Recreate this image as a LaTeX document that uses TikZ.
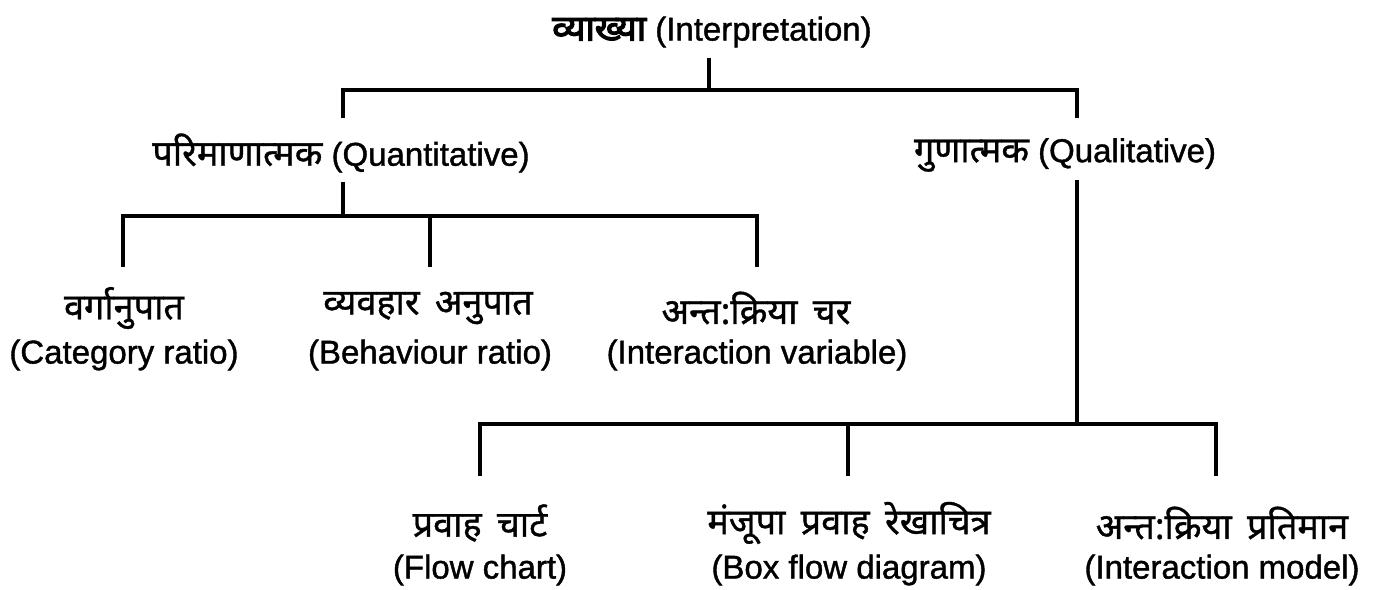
\documentclass[tikz,border=0pt]{standalone}
\usepackage{fontspec}
\setmainfont[FakeBold=1.2]{Liberation Sans}
\newfontfamily\dev[Script=Devanagari,FakeBold=1]{Noto Sans}
\newfontfamily\devbold[Script=Devanagari,FakeBold=3.5]{Noto Sans}
\newcommand{\hi}[1]{{\fontsize{36}{40}\selectfont\dev #1}}
\begin{document}
\begin{tikzpicture}[x=1pt,y=-1pt,
  conn/.style={line width=3.2pt},
  lbl/.style={inner sep=0pt,font=\fontsize{33}{38}\selectfont},
  hin/.style={inner sep=0pt,font=\fontsize{36}{40}\selectfont\dev}]
\useasboundingbox (0,0) rectangle (1378,589);
% labels
\node[lbl] (root) at (712,32) {{\fontsize{36}{40}\selectfont\devbold व्याख्या} (Interpretation)};
\node[lbl] (quant) at (341,153) {\hi{परिमाणात्मक} (Quantitative)};
\node[lbl] (qual) at (1065,155) {\hi{गुणात्मक} (Qualitative)};
\node[hin] (cat) at (124,308) {वर्गानुपात};
\node[lbl] (catE) at (124,355) {(Category ratio)};
\node[hin] (beh) at (428,308) {व्यवहार\hspace{6pt} अनुपात};
\node[lbl] (behE) at (430,355) {(Behaviour ratio)};
\node[hin] (intv) at (756,308) {अन्त:क्रिया\hspace{6pt} चर};
\node[lbl] (intvE) at (757,355) {(Interaction variable)};
\node[hin] (flow) at (480,523) {प्रवाह\hspace{6pt} चार्ट};
\node[lbl] (flowE) at (480,570) {(Flow chart)};
\node[hin] (box) at (849,523) {मंजूपा\hspace{6pt} प्रवाह\hspace{6pt} रेखाचित्र};
\node[lbl] (boxE) at (849,570) {(Box flow diagram)};
\node[hin] (intm) at (1222,523) {अन्त:क्रिया\hspace{6pt} प्रतिमान};
\node[lbl] (intmE) at (1222,570) {(Interaction model)};
% junction coordinates
\coordinate (r0) at (709,58);
\coordinate (r1) at (709,90);
\coordinate (qn0) at (343,118);
\coordinate (ql0) at (1077,118);
\coordinate (qn1) at (343,182);
\coordinate (qn2) at (343,216);
\coordinate (c0) at (123,267);
\coordinate (b0) at (430,267);
\coordinate (i0) at (757,267);
\coordinate (ql1) at (1077,180);
\coordinate (ql2) at (1077,424);
\coordinate (f0) at (480,476);
\coordinate (x0) at (848,476);
\coordinate (m0) at (1216,476);
% connectors
\draw[conn] (r0) -- (r1);
\draw[conn] (qn0) -- (qn0 |- r1) -- (ql0 |- r1) -- (ql0);
\draw[conn] (qn1) -- (qn2);
\draw[conn] (c0) -- (c0 |- qn2) -- (i0 |- qn2) -- (i0);
\draw[conn] (b0) -- (b0 |- qn2);
\draw[conn] (ql1) -- (ql2);
\draw[conn] (f0) -- (f0 |- ql2) -- (m0 |- ql2) -- (m0);
\draw[conn] (x0) -- (x0 |- ql2);
\end{tikzpicture}
\end{document}
